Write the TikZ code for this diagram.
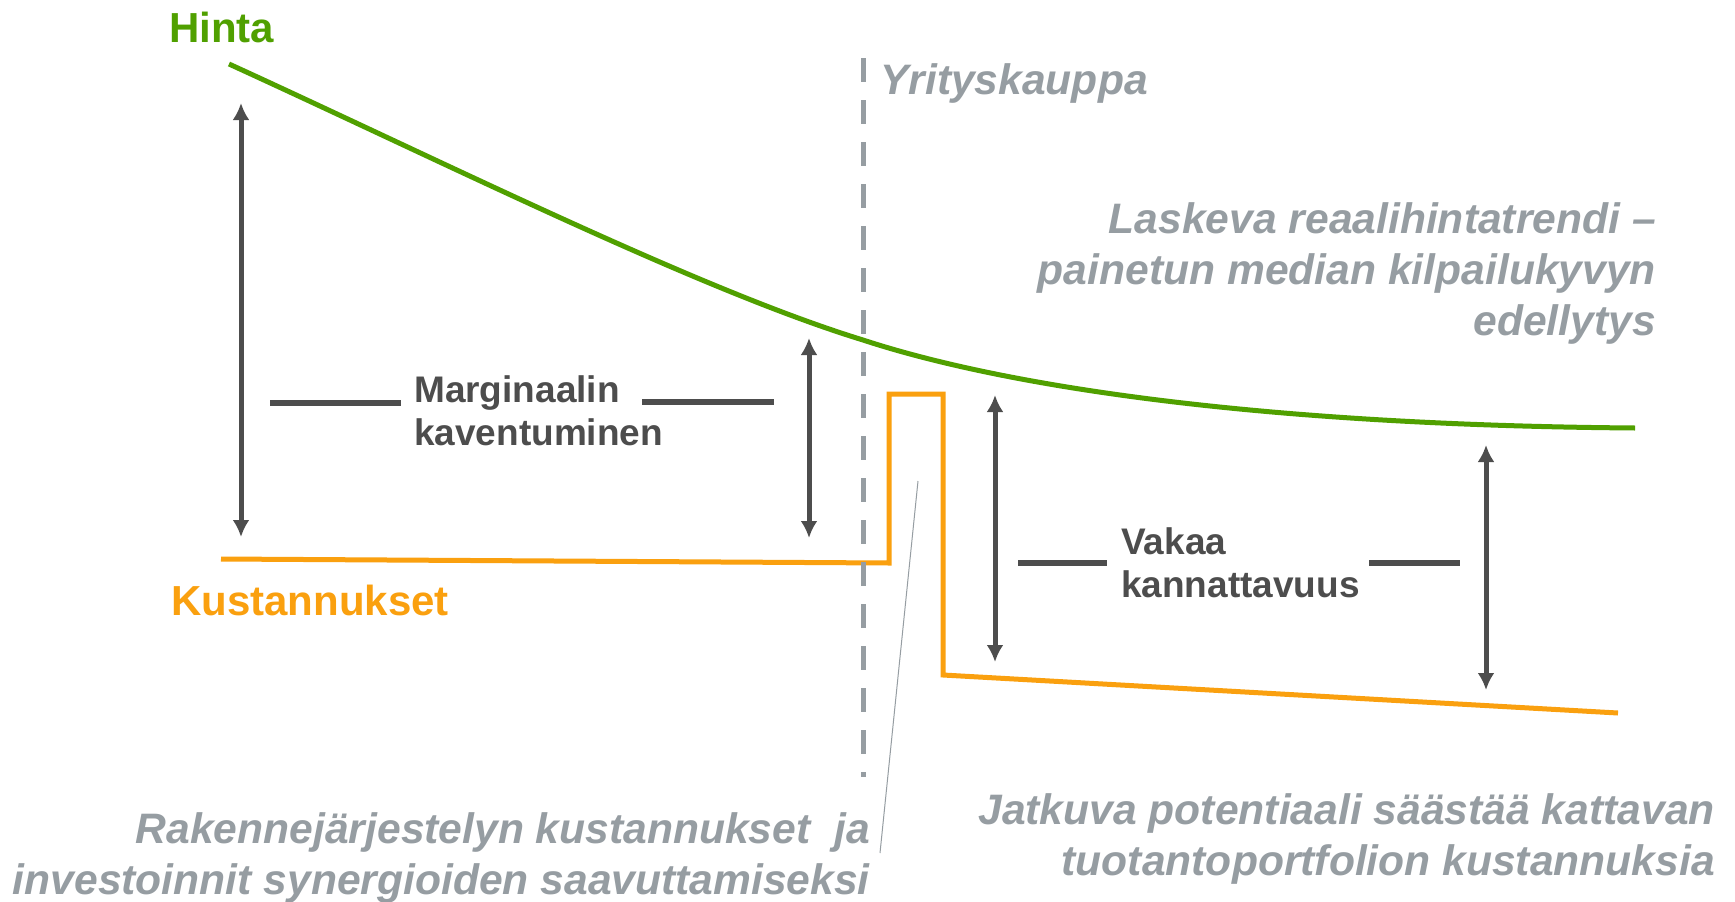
\documentclass[tikz,border=0pt]{standalone}
\usepackage{fontspec}
\setmainfont{Liberation Sans}
\usetikzlibrary{arrows.meta}

\definecolor{hintagreen}{RGB}{80,160,0}
\definecolor{kustorange}{RGB}{250,160,15}
\definecolor{notegray}{RGB}{150,157,162}
\definecolor{bardark}{RGB}{77,77,77}

\begin{document}
\begin{tikzpicture}[x=1pt,y=-1pt,>={Latex[length=17pt,width=17pt]}]
    \tikzset{every node/.style={inner sep=0pt},
      curve/.style={line width=5pt},
      gap/.style={<->,draw=bardark,line width=5pt},
      bar/.style={draw=bardark,line width=6.5pt},
      graynote/.style={text=notegray,font=\fontsize{42.6}{51}\selectfont\bfseries\itshape,align=right},
      marginlabel/.style={text=bardark,font=\fontsize{37}{43}\selectfont\bfseries,align=left}}

    \fill[white] (0,0) rectangle (1735,902);
    \useasboundingbox (0,0) rectangle (1735,902);

    % hinta ja kustannukset
    \draw[hintagreen,curve] (229,64) .. controls (450,165) and (700,290) .. (863,340)
        .. controls (1000,385) and (1250,425) .. (1635,428);
    \draw[kustorange,curve] (221,559) -- (889,563) -- (889,394) -- (943,394) -- (943,675) -- (1618,713);

    % yrityskauppa
    \coordinate (ykt) at (863,58);
    \coordinate (ykb) at (863,777);
    \draw[notegray,line width=5pt,dash pattern=on 24pt off 18pt] (ykt) -- (ykb);

    \node[anchor=base west,text=hintagreen,font=\fontsize{42}{51}\selectfont\bfseries] (hinta) at (169,42) {Hinta};
    \node[anchor=base west,text=kustorange,font=\fontsize{42}{51}\selectfont\bfseries] (kust) at (171,615) {Kustannukset};
    \node[graynote,anchor=base west] (yk) at (880,94) {Yrityskauppa};
    \node[graynote,anchor=base east] (trendi) at (1656,335) {Laskeva reaalihintatrendi –\\painetun median kilpailukyvyn\\edellytys};
    \node[graynote,anchor=base east] (rakenne) at (870,894) {Rakennejärjestelyn kustannukset\ \ ja\\investoinnit synergioiden saavuttamiseksi};
    \node[graynote,anchor=base east] (jatkuva) at (1715,875) {Jatkuva potentiaali säästää kattavan\\tuotantoportfolion kustannuksia};

    \node[marginlabel,anchor=base west] (marg) at (414,445) {Marginaalin\\kaventuminen};
    \node[marginlabel,anchor=base west] (vakaa) at (1121,597) {Vakaa\\kannattavuus};

    % nuolet
    \coordinate (a1t) at (241,103);  \coordinate (a1b) at (241,537);
    \coordinate (a2t) at (809,338);  \coordinate (a2b) at (809,538);
    \coordinate (a3t) at (995,395);  \coordinate (a3b) at (995,662);
    \coordinate (a4t) at (1486,445); \coordinate (a4b) at (1486,690);
    \draw[gap] (a1t) -- (a1b);
    \draw[gap] (a2t) -- (a2b);
    \draw[gap] (a3t) -- (a3b);
    \draw[gap] (a4t) -- (a4b);

    \coordinate (m1) at (270,403); \coordinate (m2) at (401,403);
    \coordinate (m3) at (642,402); \coordinate (m4) at (774,402);
    \coordinate (v1) at (1018,563); \coordinate (v2) at (1107,563);
    \coordinate (v3) at (1369,563); \coordinate (v4) at (1460,563);
    \draw[bar] (m1) -- (m2);
    \draw[bar] (m3) -- (m4);
    \draw[bar] (v1) -- (v2);
    \draw[bar] (v3) -- (v4);

    % viite
    \coordinate (lt) at (918,481);
    \coordinate (lb) at (880,853);
    \draw[notegray,line width=1pt] (lt) -- (lb);
\end{tikzpicture}
\end{document}
